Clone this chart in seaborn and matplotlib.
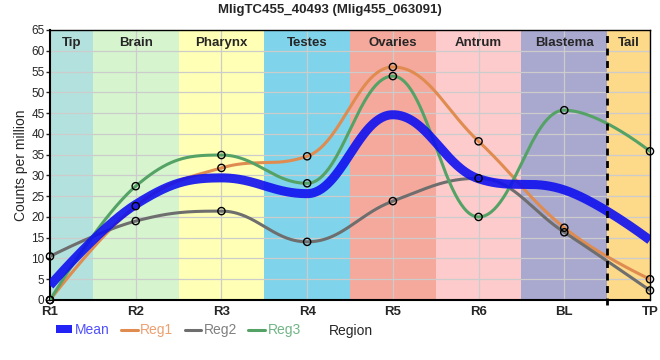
import numpy as np
import pandas as pd
import matplotlib
matplotlib.use("Agg")
import matplotlib.pyplot as plt
from matplotlib.patches import Patch
from matplotlib.lines import Line2D
import seaborn as sns

# ---- data ----
regions = ['R1', 'R2', 'R3', 'R4', 'R5', 'R6', 'BL', 'TP']
mean_vals = [3.5, 23.0, 29.4, 25.6, 44.6, 29.2, 26.5, 14.4]
reg1 = [0.0, 22.6, 31.8, 34.6, 56.1, 38.2, 17.4, 5.0]
reg2 = [10.5, 19.0, 21.4, 14.0, 23.8, 29.3, 16.3, 2.3]
reg3 = [0.0, 27.4, 34.9, 28.1, 53.9, 20.0, 45.7, 35.8]
band_names = ['Tip', 'Brain', 'Pharynx', 'Testes', 'Ovaries', 'Antrum', 'Blastema', 'Tail']
band_edges = [0, 0.5, 1.5, 2.5, 3.5, 4.5, 5.5, 6.5, 7]
band_colors = ['#b3e1de', '#d6f5cf', '#ffffb5', '#7fd3ea', '#f5a99c', '#fdcbcb', '#a9a8cf', '#fdd98a']
title = 'MligTC455_40493 (Mlig455_063091)'

sns.set_style('white')
plt.rcParams['font.family'] = ['Liberation Sans', 'DejaVu Sans']


def spline(y, n=60):
    """Spline with clamped control points (smoothing 1.5), Bezier segments."""
    y = [float(v) for v in y]
    x = list(range(len(y)))
    m = len(y)
    sm = 1.5
    den = sm + 1
    left = [None] * m
    right = [None] * m
    for i in range(1, m - 1):
        px, py = x[i], y[i]
        lx, ly = x[i - 1], y[i - 1]
        nx, ny = x[i + 1], y[i + 1]
        lcx = (sm * px + lx) / den
        lcy = (sm * py + ly) / den
        rcx = (sm * px + nx) / den
        rcy = (sm * py + ny) / den
        corr = (rcy - lcy) * (rcx - px) / (rcx - lcx) + py - rcy
        lcy += corr
        rcy += corr
        if lcy > ly and lcy > py:
            lcy = max(ly, py)
            rcy = 2 * py - lcy
        elif lcy < ly and lcy < py:
            lcy = min(ly, py)
            rcy = 2 * py - lcy
        if rcy > ny and rcy > py:
            rcy = max(ny, py)
            lcy = 2 * py - rcy
        elif rcy < ny and rcy < py:
            rcy = min(ny, py)
            lcy = 2 * py - rcy
        left[i] = (lcx, lcy)
        right[i] = (rcx, rcy)
    xs, ys = [], []
    for i in range(m - 1):
        p0 = (x[i], y[i])
        p1 = right[i] if right[i] is not None else p0
        p3 = (x[i + 1], y[i + 1])
        p2 = left[i + 1] if left[i + 1] is not None else p3
        t = np.linspace(0, 1, n, endpoint=(i == m - 2))
        a = (1 - t) ** 3
        b = 3 * (1 - t) ** 2 * t
        c = 3 * (1 - t) * t ** 2
        d = t ** 3
        xs.append(a * p0[0] + b * p1[0] + c * p2[0] + d * p3[0])
        ys.append(a * p0[1] + b * p1[1] + c * p2[1] + d * p3[1])
    return np.concatenate(xs), np.concatenate(ys)


fig = plt.figure(figsize=(6.6, 3.6), dpi=100)
ax = fig.add_axes([50 / 660, 1 - 300 / 360, 600 / 660, 270 / 360])

for i, c in enumerate(band_colors):
    ax.axvspan(band_edges[i], band_edges[i + 1], color=c, lw=0, zorder=0)
    ax.text((band_edges[i] + band_edges[i + 1]) / 2, 61.9, band_names[i],
            ha='center', va='center', fontsize=9.5, fontweight='bold', zorder=5)

for yv in range(5, 65, 5):
    ax.axhline(yv, color='#cccccc', lw=0.9, zorder=1)
for xv in range(1, 7):
    ax.axvline(xv, color='#cccccc', lw=0.9, zorder=1)

series = [('Reg1', reg1, '#e08c50'), ('Reg2', reg2, '#6e6e6e'), ('Reg3', reg3, '#55a266')]
for name, vals, col in series:
    xs, ys = spline(vals)
    df = pd.DataFrame({'x': xs, 'y': ys})
    sns.lineplot(data=df, x='x', y='y', sort=False, estimator=None, color=col,
                 lw=2.2, ax=ax, zorder=3)

xs, ys = spline(mean_vals)
sns.lineplot(data=pd.DataFrame({'x': xs, 'y': ys}), x='x', y='y', sort=False,
             estimator=None, color='#1010f0', alpha=0.9, lw=6.5, ax=ax, zorder=4,
             solid_capstyle='butt')

for name, vals, col in series:
    pts = pd.DataFrame({'x': np.arange(len(regions)), 'y': vals})
    sns.scatterplot(data=pts, x='x', y='y', marker='o', s=27, facecolor='none',
                    edgecolor='black', linewidth=1.0, ax=ax, zorder=6, clip_on=False)

ax.axvline(6.5, color='black', lw=2, ls=(0, (2.5, 2)), zorder=5, ymin=-0.02, clip_on=False)

ax.set_xlim(0, 7)
ax.set_ylim(0, 65)
ax.set_yticks(range(0, 66, 5))
ax.set_xticks(range(len(regions)))
ax.set_xticklabels(regions, fontweight='bold', fontsize=9.5)
ax.tick_params(axis='y', labelsize=8.5, length=3, width=1, pad=1, left=True)
ax.tick_params(axis='x', length=0, pad=4)
for sp in ax.spines.values():
    sp.set_color('black')
    sp.set_linewidth(1.5)
ax.spines['top'].set_linewidth(1.0)
ax.spines['right'].set_linewidth(1.0)
ax.set_ylabel('Counts per million', fontsize=10, labelpad=2)
ax.set_xlabel('Region', fontsize=10)
ax.xaxis.set_label_coords((351 - 50) / 600, -24 / 270)

fig.text(0.5, 1 - 10 / 360, title, ha='center', va='center', fontsize=9.5, fontweight='bold')

handles = [Patch(facecolor='#2323f5', edgecolor='none'),
           Line2D([0], [0], color='#e08c50', lw=2.2),
           Line2D([0], [0], color='#6e6e6e', lw=2.2),
           Line2D([0], [0], color='#55a266', lw=2.2)]
labels = ['Mean', 'Reg1', 'Reg2', 'Reg3']
leg = fig.legend(handles, labels, loc='center left', bbox_to_anchor=(50 / 660, 1 - 330 / 360),
                 ncol=4, frameon=False, fontsize=10, handlelength=1.2, handleheight=0.45,
                 handletextpad=0.2, columnspacing=0.8, borderaxespad=0)
for txt, col in zip(leg.get_texts(), ['#5050ff', '#eda070', '#808080', '#70b585']):
    txt.set_color(col)

fig.savefig('out.png', dpi=100)
